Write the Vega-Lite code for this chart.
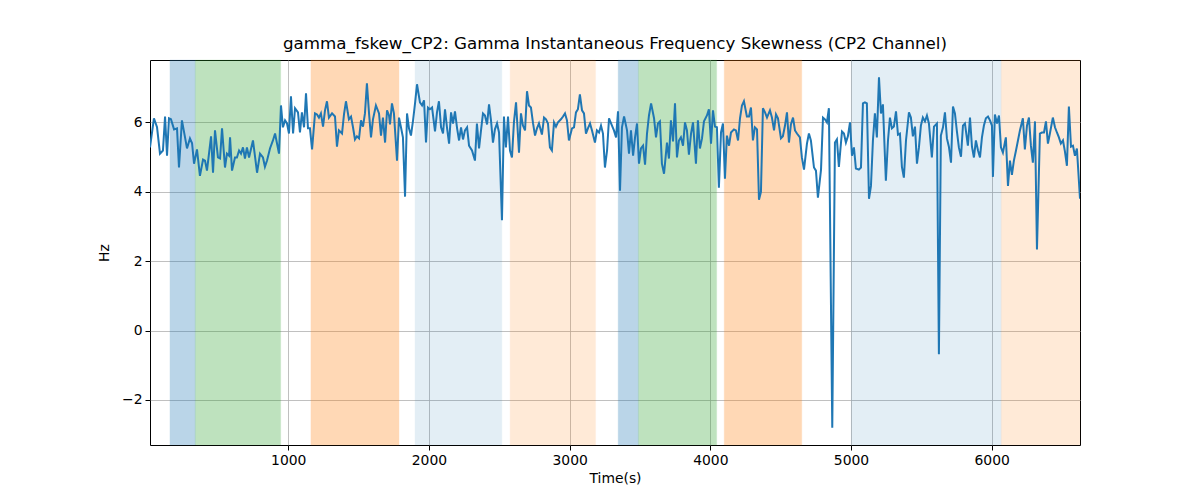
{
  "$schema": "https://vega.github.io/schema/vega-lite/v6.json",
  "width": 930,
  "height": 385,
  "autosize": {"type": "none"},
  "padding": {"left": 150, "top": 60, "right": 120, "bottom": 55},
  "background": "white",
  "title": {
    "text": "gamma_fskew_CP2: Gamma Instantaneous Frequency Skewness (CP2 Channel)",
    "font": "DejaVu Sans",
    "fontSize": 16.7,
    "fontWeight": "normal",
    "color": "black",
    "offset": 7
  },
  "config": {
    "view": {"stroke": "black", "strokeWidth": 1},
    "axis": {
      "domain": false,
      "labelFont": "DejaVu Sans",
      "labelFontSize": 13.9,
      "labelColor": "black",
      "titleFont": "DejaVu Sans",
      "titleFontSize": 13.9,
      "titleFontWeight": "normal",
      "titleColor": "black",
      "tickColor": "black",
      "tickSize": 5,
      "tickWidth": 1,
      "labelPadding": 3,
      "gridColor": "#b0b0b0",
      "gridWidth": 0.8
    }
  },
  "layer": [
    {
      "data": {
        "values": [
          {"start": 159, "end": 339, "band": "a"},
          {"start": 339, "end": 946, "band": "b"},
          {"start": 1161, "end": 1787, "band": "c"},
          {"start": 1901, "end": 2518, "band": "d"},
          {"start": 2577, "end": 3184, "band": "e"},
          {"start": 3345, "end": 3489, "band": "a"},
          {"start": 3489, "end": 4045, "band": "b"},
          {"start": 4099, "end": 4650, "band": "c"},
          {"start": 5002, "end": 6068, "band": "d"},
          {"start": 6068, "end": 6628, "band": "e"}
        ]
      },
      "mark": {"type": "rect", "strokeWidth": 1, "strokeOpacity": 0.35},
      "encoding": {
        "x": {
          "field": "start",
          "type": "quantitative",
          "scale": {"domain": [17, 6628], "nice": false, "zero": false},
          "axis": {"title": "Time(s)", "values": [1000, 2000, 3000, 4000, 5000, 6000], "format": "d", "titlePadding": 5}
        },
        "x2": {"field": "end"},
        "color": {
          "field": "band",
          "type": "nominal",
          "scale": {"domain": ["a", "b", "c", "d", "e"], "range": ["#1f77b4", "#2ca02c", "#ff7f0e", "#1f77b4", "#ff7f0e"]},
          "legend": null
        },
        "stroke": {
          "field": "band",
          "type": "nominal",
          "scale": {"domain": ["a", "b", "c", "d", "e"], "range": ["#1f77b4", "#2ca02c", "#ff7f0e", "#1f77b4", "#ff7f0e"]},
          "legend": null
        },
        "opacity": {
          "condition": [
            {"test": "datum.band === 'd'", "value": 0.12},
            {"test": "datum.band === 'e'", "value": 0.16}
          ],
          "value": 0.3
        }
      }
    },
    {
      "data": {
        "values": [
          {"t": 17, "v": 5.28}, {"t": 45, "v": 6.12}, {"t": 67, "v": 5.86}, {"t": 88, "v": 5.1}, {"t": 109, "v": 5.19},
          {"t": 124, "v": 6.17}, {"t": 138, "v": 5.04}, {"t": 152, "v": 6.12}, {"t": 166, "v": 6.09}, {"t": 188, "v": 5.8},
          {"t": 209, "v": 5.83}, {"t": 223, "v": 4.7}, {"t": 244, "v": 6.06}, {"t": 266, "v": 5.57}, {"t": 280, "v": 5.25},
          {"t": 301, "v": 5.54}, {"t": 316, "v": 5.4}, {"t": 330, "v": 4.81}, {"t": 351, "v": 5.22}, {"t": 372, "v": 4.46},
          {"t": 394, "v": 4.93}, {"t": 408, "v": 4.9}, {"t": 422, "v": 4.61}, {"t": 451, "v": 5.6}, {"t": 465, "v": 4.55},
          {"t": 479, "v": 5.77}, {"t": 500, "v": 4.99}, {"t": 515, "v": 4.96}, {"t": 529, "v": 5.83}, {"t": 550, "v": 4.7},
          {"t": 564, "v": 5.1}, {"t": 579, "v": 5.04}, {"t": 586, "v": 5.57}, {"t": 600, "v": 4.61}, {"t": 621, "v": 4.99},
          {"t": 635, "v": 4.99}, {"t": 650, "v": 5.19}, {"t": 664, "v": 5.1}, {"t": 678, "v": 5.28}, {"t": 692, "v": 4.96},
          {"t": 706, "v": 5.28}, {"t": 721, "v": 4.99}, {"t": 749, "v": 5.48}, {"t": 778, "v": 4.55}, {"t": 799, "v": 5.1},
          {"t": 820, "v": 4.99}, {"t": 834, "v": 4.72}, {"t": 849, "v": 4.9}, {"t": 870, "v": 5.25}, {"t": 891, "v": 5.48},
          {"t": 906, "v": 5.68}, {"t": 934, "v": 5.1}, {"t": 948, "v": 6.49}, {"t": 962, "v": 5.86}, {"t": 977, "v": 6.06},
          {"t": 991, "v": 5.97}, {"t": 1005, "v": 5.68}, {"t": 1019, "v": 6.75}, {"t": 1034, "v": 5.68}, {"t": 1048, "v": 6.41},
          {"t": 1069, "v": 6.29}, {"t": 1083, "v": 5.71}, {"t": 1097, "v": 6.29}, {"t": 1112, "v": 5.86}, {"t": 1126, "v": 6.84},
          {"t": 1140, "v": 5.83}, {"t": 1154, "v": 5.83}, {"t": 1169, "v": 5.22}, {"t": 1190, "v": 6.26}, {"t": 1204, "v": 6.23},
          {"t": 1218, "v": 6.14}, {"t": 1232, "v": 6.26}, {"t": 1247, "v": 5.88}, {"t": 1261, "v": 6.35}, {"t": 1275, "v": 6.61},
          {"t": 1289, "v": 6.14}, {"t": 1311, "v": 6.26}, {"t": 1332, "v": 6.17}, {"t": 1346, "v": 5.3}, {"t": 1360, "v": 5.77},
          {"t": 1382, "v": 5.68}, {"t": 1396, "v": 6.23}, {"t": 1410, "v": 6.61}, {"t": 1431, "v": 6.09}, {"t": 1446, "v": 6.17},
          {"t": 1460, "v": 5.86}, {"t": 1474, "v": 5.51}, {"t": 1488, "v": 5.6}, {"t": 1503, "v": 5.54}, {"t": 1517, "v": 6.06},
          {"t": 1531, "v": 5.88}, {"t": 1545, "v": 6.26}, {"t": 1559, "v": 7.13}, {"t": 1574, "v": 6.26}, {"t": 1588, "v": 5.57},
          {"t": 1602, "v": 6.09}, {"t": 1623, "v": 6.49}, {"t": 1645, "v": 6.26}, {"t": 1659, "v": 5.62}, {"t": 1673, "v": 6.14},
          {"t": 1688, "v": 5.42}, {"t": 1702, "v": 6.35}, {"t": 1716, "v": 6.2}, {"t": 1723, "v": 5.94}, {"t": 1737, "v": 6.55},
          {"t": 1751, "v": 6.26}, {"t": 1773, "v": 4.9}, {"t": 1787, "v": 6.14}, {"t": 1801, "v": 5.86}, {"t": 1815, "v": 5.57},
          {"t": 1830, "v": 3.86}, {"t": 1844, "v": 6.26}, {"t": 1858, "v": 5.83}, {"t": 1872, "v": 5.62}, {"t": 1887, "v": 6.06},
          {"t": 1901, "v": 6.55}, {"t": 1915, "v": 7.1}, {"t": 1936, "v": 6.58}, {"t": 1951, "v": 6.49}, {"t": 1965, "v": 6.64},
          {"t": 1979, "v": 5.42}, {"t": 1993, "v": 6.43}, {"t": 2007, "v": 6.38}, {"t": 2022, "v": 6.43}, {"t": 2043, "v": 5.74},
          {"t": 2057, "v": 6.29}, {"t": 2071, "v": 6.61}, {"t": 2086, "v": 5.86}, {"t": 2100, "v": 5.68}, {"t": 2114, "v": 6.38},
          {"t": 2128, "v": 5.86}, {"t": 2143, "v": 5.39}, {"t": 2157, "v": 6.29}, {"t": 2171, "v": 5.97}, {"t": 2185, "v": 6.32},
          {"t": 2200, "v": 5.83}, {"t": 2214, "v": 5.48}, {"t": 2228, "v": 5.86}, {"t": 2242, "v": 5.51}, {"t": 2256, "v": 5.77},
          {"t": 2271, "v": 5.86}, {"t": 2285, "v": 5.33}, {"t": 2306, "v": 5.19}, {"t": 2327, "v": 4.9}, {"t": 2341, "v": 5.97},
          {"t": 2356, "v": 5.25}, {"t": 2370, "v": 5.77}, {"t": 2384, "v": 6.26}, {"t": 2398, "v": 6.2}, {"t": 2413, "v": 5.94},
          {"t": 2427, "v": 6.52}, {"t": 2441, "v": 6.06}, {"t": 2455, "v": 5.42}, {"t": 2469, "v": 5.8}, {"t": 2484, "v": 5.97},
          {"t": 2498, "v": 5.71}, {"t": 2519, "v": 3.18}, {"t": 2533, "v": 6.17}, {"t": 2547, "v": 5.28}, {"t": 2562, "v": 6.17},
          {"t": 2576, "v": 5.19}, {"t": 2590, "v": 4.99}, {"t": 2604, "v": 6.0}, {"t": 2619, "v": 6.58}, {"t": 2640, "v": 5.13},
          {"t": 2654, "v": 6.26}, {"t": 2668, "v": 5.91}, {"t": 2683, "v": 5.77}, {"t": 2697, "v": 6.9}, {"t": 2711, "v": 6.49},
          {"t": 2725, "v": 6.43}, {"t": 2740, "v": 5.97}, {"t": 2754, "v": 5.62}, {"t": 2768, "v": 5.83}, {"t": 2782, "v": 5.97},
          {"t": 2803, "v": 5.65}, {"t": 2818, "v": 6.14}, {"t": 2832, "v": 6.09}, {"t": 2846, "v": 5.97}, {"t": 2860, "v": 5.28},
          {"t": 2874, "v": 5.19}, {"t": 2889, "v": 6.0}, {"t": 2903, "v": 5.88}, {"t": 2917, "v": 6.0}, {"t": 2938, "v": 6.09},
          {"t": 2953, "v": 6.17}, {"t": 2967, "v": 6.26}, {"t": 2981, "v": 6.06}, {"t": 2995, "v": 5.48}, {"t": 3017, "v": 5.83},
          {"t": 3031, "v": 5.86}, {"t": 3045, "v": 6.29}, {"t": 3059, "v": 6.38}, {"t": 3073, "v": 6.81}, {"t": 3088, "v": 6.35},
          {"t": 3102, "v": 6.26}, {"t": 3116, "v": 5.68}, {"t": 3130, "v": 5.83}, {"t": 3145, "v": 5.97}, {"t": 3159, "v": 5.77},
          {"t": 3180, "v": 5.42}, {"t": 3194, "v": 5.77}, {"t": 3209, "v": 5.71}, {"t": 3223, "v": 5.91}, {"t": 3237, "v": 5.68},
          {"t": 3251, "v": 4.7}, {"t": 3266, "v": 5.19}, {"t": 3280, "v": 6.12}, {"t": 3301, "v": 5.91}, {"t": 3315, "v": 5.77},
          {"t": 3330, "v": 5.57}, {"t": 3344, "v": 6.32}, {"t": 3358, "v": 4.03}, {"t": 3372, "v": 5.86}, {"t": 3387, "v": 6.17},
          {"t": 3408, "v": 5.77}, {"t": 3422, "v": 5.1}, {"t": 3436, "v": 5.77}, {"t": 3451, "v": 5.04}, {"t": 3465, "v": 5.57},
          {"t": 3479, "v": 5.97}, {"t": 3493, "v": 4.81}, {"t": 3507, "v": 5.25}, {"t": 3522, "v": 5.33}, {"t": 3536, "v": 4.78},
          {"t": 3550, "v": 5.68}, {"t": 3564, "v": 6.2}, {"t": 3579, "v": 6.55}, {"t": 3600, "v": 6.12}, {"t": 3614, "v": 5.57},
          {"t": 3628, "v": 5.97}, {"t": 3642, "v": 6.03}, {"t": 3656, "v": 4.81}, {"t": 3671, "v": 4.52}, {"t": 3692, "v": 5.42},
          {"t": 3706, "v": 4.96}, {"t": 3720, "v": 6.06}, {"t": 3735, "v": 5.45}, {"t": 3749, "v": 6.55}, {"t": 3763, "v": 4.99},
          {"t": 3777, "v": 5.48}, {"t": 3791, "v": 5.57}, {"t": 3806, "v": 5.33}, {"t": 3820, "v": 6.0}, {"t": 3834, "v": 5.77},
          {"t": 3848, "v": 5.07}, {"t": 3863, "v": 5.68}, {"t": 3877, "v": 6.0}, {"t": 3898, "v": 4.81}, {"t": 3912, "v": 6.06},
          {"t": 3926, "v": 5.25}, {"t": 3941, "v": 5.54}, {"t": 3955, "v": 6.03}, {"t": 3976, "v": 6.2}, {"t": 3990, "v": 6.38},
          {"t": 4005, "v": 5.39}, {"t": 4019, "v": 6.35}, {"t": 4033, "v": 5.88}, {"t": 4047, "v": 5.86}, {"t": 4061, "v": 4.12},
          {"t": 4076, "v": 5.71}, {"t": 4090, "v": 5.97}, {"t": 4104, "v": 4.38}, {"t": 4118, "v": 5.62}, {"t": 4133, "v": 5.33},
          {"t": 4147, "v": 5.71}, {"t": 4168, "v": 5.8}, {"t": 4182, "v": 5.77}, {"t": 4197, "v": 5.48}, {"t": 4211, "v": 6.12},
          {"t": 4225, "v": 6.49}, {"t": 4239, "v": 6.61}, {"t": 4260, "v": 6.17}, {"t": 4275, "v": 6.17}, {"t": 4289, "v": 6.43},
          {"t": 4303, "v": 5.48}, {"t": 4317, "v": 5.86}, {"t": 4332, "v": 5.8}, {"t": 4346, "v": 3.77}, {"t": 4360, "v": 4.0},
          {"t": 4374, "v": 6.41}, {"t": 4389, "v": 6.29}, {"t": 4403, "v": 6.14}, {"t": 4424, "v": 6.35}, {"t": 4438, "v": 6.14},
          {"t": 4453, "v": 5.77}, {"t": 4467, "v": 6.23}, {"t": 4481, "v": 6.12}, {"t": 4502, "v": 5.54}, {"t": 4516, "v": 5.6},
          {"t": 4531, "v": 5.91}, {"t": 4545, "v": 6.29}, {"t": 4559, "v": 5.42}, {"t": 4573, "v": 5.94}, {"t": 4588, "v": 6.14},
          {"t": 4602, "v": 5.77}, {"t": 4616, "v": 5.68}, {"t": 4637, "v": 5.57}, {"t": 4651, "v": 4.99}, {"t": 4666, "v": 4.64},
          {"t": 4687, "v": 5.39}, {"t": 4701, "v": 5.68}, {"t": 4715, "v": 5.48}, {"t": 4737, "v": 4.7}, {"t": 4751, "v": 4.61},
          {"t": 4765, "v": 3.83}, {"t": 4787, "v": 4.64}, {"t": 4801, "v": 6.14}, {"t": 4815, "v": 6.09}, {"t": 4829, "v": 6.0},
          {"t": 4843, "v": 6.41}, {"t": 4867, "v": -2.8}, {"t": 4886, "v": 5.42}, {"t": 4900, "v": 5.51}, {"t": 4914, "v": 4.72},
          {"t": 4936, "v": 5.74}, {"t": 4950, "v": 5.68}, {"t": 4964, "v": 5.42}, {"t": 4978, "v": 5.6}, {"t": 4993, "v": 6.0},
          {"t": 5007, "v": 5.04}, {"t": 5021, "v": 5.28}, {"t": 5035, "v": 4.67}, {"t": 5056, "v": 4.64}, {"t": 5071, "v": 4.7},
          {"t": 5085, "v": 6.55}, {"t": 5099, "v": 6.58}, {"t": 5113, "v": 6.55}, {"t": 5128, "v": 3.8}, {"t": 5142, "v": 4.17},
          {"t": 5156, "v": 5.48}, {"t": 5170, "v": 6.26}, {"t": 5184, "v": 5.57}, {"t": 5199, "v": 7.3}, {"t": 5213, "v": 6.26},
          {"t": 5227, "v": 6.52}, {"t": 5248, "v": 4.32}, {"t": 5263, "v": 5.48}, {"t": 5277, "v": 6.14}, {"t": 5291, "v": 5.83},
          {"t": 5305, "v": 5.88}, {"t": 5320, "v": 6.32}, {"t": 5334, "v": 5.65}, {"t": 5348, "v": 5.68}, {"t": 5362, "v": 4.72},
          {"t": 5376, "v": 4.41}, {"t": 5391, "v": 5.48}, {"t": 5412, "v": 6.29}, {"t": 5426, "v": 6.14}, {"t": 5440, "v": 5.6},
          {"t": 5455, "v": 5.88}, {"t": 5469, "v": 4.81}, {"t": 5483, "v": 5.28}, {"t": 5497, "v": 5.91}, {"t": 5511, "v": 6.14},
          {"t": 5526, "v": 6.03}, {"t": 5540, "v": 6.2}, {"t": 5554, "v": 5.97}, {"t": 5575, "v": 4.99}, {"t": 5590, "v": 5.88},
          {"t": 5611, "v": 5.97}, {"t": 5625, "v": -0.68}, {"t": 5639, "v": 5.62}, {"t": 5654, "v": 5.86}, {"t": 5668, "v": 6.29},
          {"t": 5682, "v": 5.54}, {"t": 5696, "v": 5.3}, {"t": 5711, "v": 4.84}, {"t": 5725, "v": 6.46}, {"t": 5739, "v": 6.26},
          {"t": 5753, "v": 5.74}, {"t": 5767, "v": 5.28}, {"t": 5782, "v": 5.01}, {"t": 5796, "v": 5.91}, {"t": 5810, "v": 5.97},
          {"t": 5831, "v": 5.33}, {"t": 5846, "v": 6.14}, {"t": 5860, "v": 5.3}, {"t": 5874, "v": 4.99}, {"t": 5888, "v": 5.48},
          {"t": 5903, "v": 5.19}, {"t": 5917, "v": 4.99}, {"t": 5931, "v": 5.57}, {"t": 5945, "v": 5.91}, {"t": 5959, "v": 6.12},
          {"t": 5974, "v": 6.17}, {"t": 5988, "v": 6.06}, {"t": 6002, "v": 5.91}, {"t": 6009, "v": 4.43}, {"t": 6023, "v": 6.23},
          {"t": 6038, "v": 5.97}, {"t": 6052, "v": 6.2}, {"t": 6066, "v": 5.28}, {"t": 6080, "v": 5.13}, {"t": 6101, "v": 5.57},
          {"t": 6116, "v": 4.17}, {"t": 6130, "v": 4.9}, {"t": 6144, "v": 4.49}, {"t": 6158, "v": 4.9}, {"t": 6173, "v": 5.19},
          {"t": 6187, "v": 5.48}, {"t": 6201, "v": 5.77}, {"t": 6222, "v": 6.12}, {"t": 6236, "v": 5.22}, {"t": 6251, "v": 5.91},
          {"t": 6265, "v": 6.14}, {"t": 6279, "v": 5.33}, {"t": 6293, "v": 4.84}, {"t": 6308, "v": 6.03}, {"t": 6322, "v": 2.34},
          {"t": 6343, "v": 5.68}, {"t": 6357, "v": 5.71}, {"t": 6372, "v": 5.71}, {"t": 6386, "v": 6.03}, {"t": 6400, "v": 5.39},
          {"t": 6414, "v": 5.68}, {"t": 6435, "v": 6.14}, {"t": 6450, "v": 5.86}, {"t": 6464, "v": 5.71}, {"t": 6478, "v": 5.57},
          {"t": 6492, "v": 5.39}, {"t": 6507, "v": 5.48}, {"t": 6521, "v": 5.16}, {"t": 6535, "v": 4.75}, {"t": 6549, "v": 6.46},
          {"t": 6564, "v": 5.3}, {"t": 6578, "v": 5.33}, {"t": 6592, "v": 5.04}, {"t": 6606, "v": 5.25}, {"t": 6628, "v": 3.8}
        ]
      },
      "mark": {"type": "line", "color": "#1f77b4", "strokeWidth": 2, "clip": true},
      "encoding": {
        "x": {"field": "t", "type": "quantitative"},
        "y": {
          "field": "v",
          "type": "quantitative",
          "scale": {"domain": [-3.3, 7.8], "nice": false, "zero": false},
          "axis": {"title": "Hz", "values": [-2, 0, 2, 4, 6], "format": "d", "titlePadding": 10}
        }
      }
    }
  ]
}
